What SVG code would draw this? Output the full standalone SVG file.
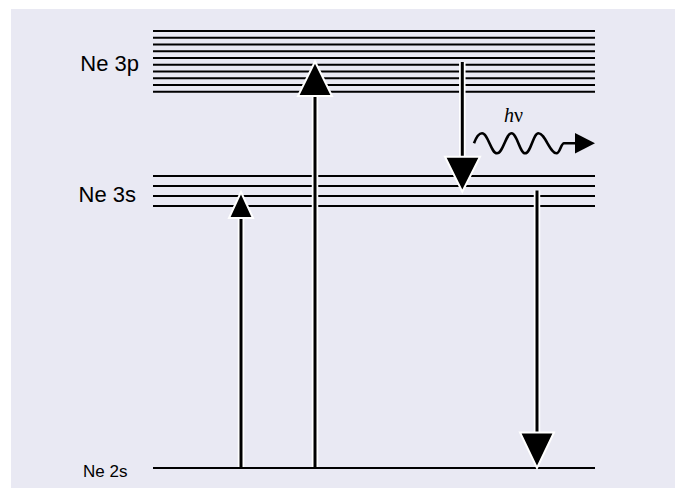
<svg xmlns="http://www.w3.org/2000/svg" width="675" height="488" viewBox="0 0 675 488">
<style>
.lvl{stroke:#000;stroke-width:2;fill:none}
.haloh{fill:#000;stroke:#fff;stroke-width:2;stroke-linejoin:miter}
.shaft{stroke:#000;stroke-width:3;fill:none}
.shafth{stroke:#fff;stroke-width:6.5;fill:none}
.lbl{font-family:"Liberation Sans","DejaVu Sans",sans-serif;fill:#000}
</style>
<rect x="11" y="9" width="664" height="479" fill="#e9e9f3"/>
<g id="level-3p">
<path class="lvl" d="M153 31H595M153 37.75H595M153 44.5H595M153 51.25H595M153 58H595M153 64.75H595M153 71.5H595M153 78.25H595M153 85H595M153 91.75H595"/>
<text class="lbl" x="139" y="71" font-size="22" text-anchor="end">Ne 3p</text>
</g>
<g id="level-3s">
<path class="lvl" d="M153 176H595M153 186H595M153 196H595M153 206H595"/>
<text class="lbl" x="136" y="201.5" font-size="22" text-anchor="end">Ne 3s</text>
</g>
<g id="level-2s">
<path class="lvl" d="M153 468H595"/>
<text class="lbl" x="83" y="476.5" font-size="17">Ne 2s</text>
</g>
<g id="connectors">
<g id="pump-3s">
<path class="shafth" d="M241 467V216"/>
<path class="shaft" d="M241 467V216"/>
<path class="haloh" d="M241 192L253 218H229Z"/>
</g>
<g id="pump-3p">
<path class="shafth" d="M315 467V94"/>
<path class="shaft" d="M315 467V94"/>
<path class="haloh" d="M315 61.5L332 96H298Z"/>
</g>
<g id="laser-3p-3s">
<path class="shafth" d="M462.3 62V158"/>
<path class="shaft" d="M462.3 62V158"/>
<path class="haloh" d="M445 156.7H480L462.3 191.7Z"/>
</g>
<g id="decay-3s-2s">
<path class="shafth" d="M537 190.5V434"/>
<path class="shaft" d="M537 190.5V434"/>
<path class="haloh" d="M520 432.5H554L537 468Z"/>
</g>
<g id="photon">
<path d="M474 143.3C476 138 479 133.3 482 133.3C488 133.3 491 153.3 497 153.3C503 153.3 506 133.3 511.5 133.3C517 133.3 520 153.3 525 153.3C531 153.3 533 133.3 538.5 133.3C545 133.3 550 153.3 556.5 153.3C560 153.3 561 143.3 564 143.3H577" fill="none" stroke="#000" stroke-width="2.6"/>
<path d="M575 133L595 143.3L575 153.5Z" fill="#000"/>
<text x="504" y="121.5" font-family="'Liberation Serif','DejaVu Serif',serif" font-style="italic" font-size="20">h<tspan font-style="normal">ν</tspan></text>
</g>
</g>
</svg>
